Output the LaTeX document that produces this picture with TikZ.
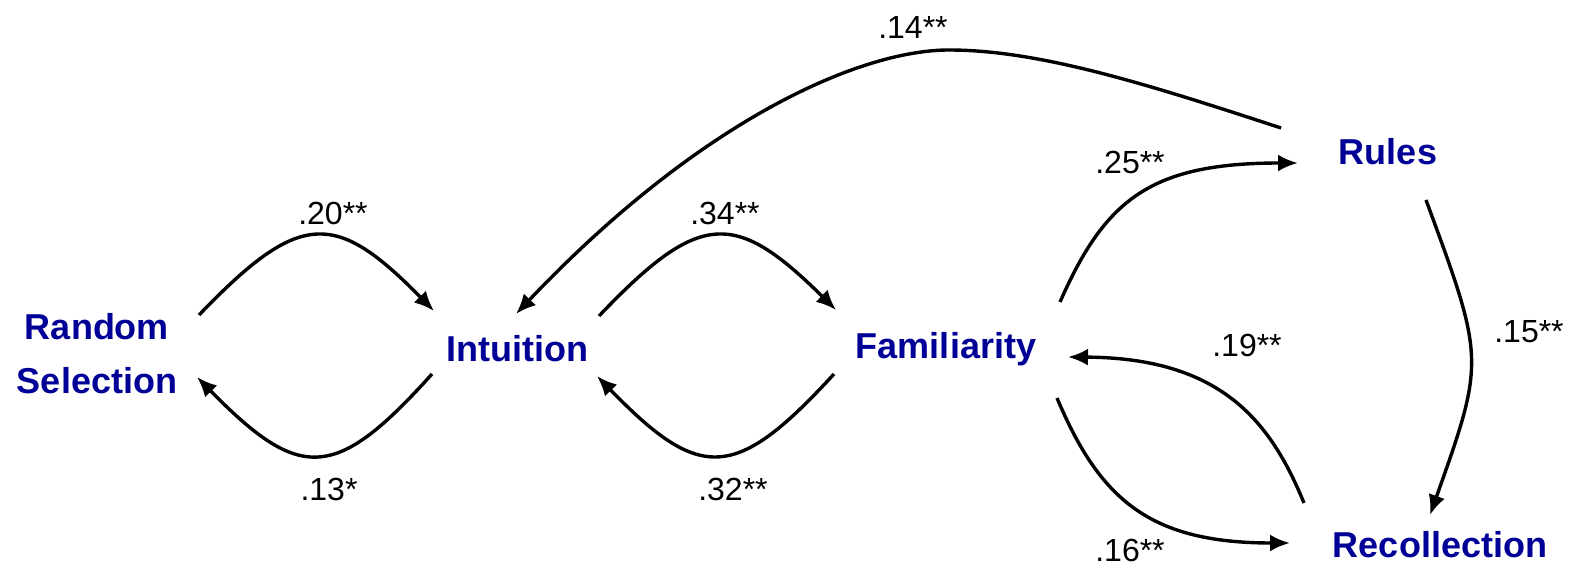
\documentclass[tikz,border=0pt]{standalone}
\usepackage{fontspec}
\setmainfont{Liberation Sans}
\usetikzlibrary{arrows.meta}
\definecolor{nodeblue}{RGB}{0,0,150}
\tikzset{
  var/.style={text=nodeblue, font=\bfseries\fontsize{18}{27}\selectfont, align=center, inner sep=0pt},
  coef/.style={font=\fontsize{16}{19}\selectfont, inner sep=0pt},
  link/.style={line width=1.7pt, -{Latex[length=10pt,width=8.5pt]}}
}
\begin{document}
\begin{tikzpicture}[x=0.5pt,y=-0.5pt]
\useasboundingbox (0,0) rectangle (1576,567);
\node[var] (rs) at (97,354) {Random\\Selection};
\node[var] (int) at (517,349) {Intuition};
\node[var] (fam) at (946,349) {Familiarity};
\node[var] (rul) at (1388,152) {Rules};
\node[var] (rec) at (1440,545) {Recollection};

\node[coef] (l20) at (333,213) {.20**};
\node[coef] (l13) at (329,489) {.13*};
\node[coef] (l34) at (725,213) {.34**};
\node[coef] (l32) at (733,489) {.32**};
\node[coef] (l14) at (913,27) {.14**};
\node[coef] (l25) at (1130,162) {.25**};
\node[coef] (l19) at (1247,345) {.19**};
\node[coef] (l15) at (1529,332) {.15**};
\node[coef] (l16) at (1130,550) {.16**};

\draw[link] ([shift={(102,-39)}]rs.center) .. controls (300,210) and (335,210) .. ([shift={(-83,-38)}]int.center);
\draw[link] ([shift={(-85,25)}]int.center) .. controls (335,482) and (300,482) .. ([shift={(100,23)}]rs.center);
\draw[link] ([shift={(82,-33)}]int.center) .. controls (700,210) and (735,210) .. ([shift={(-110,-39)}]fam.center);
\draw[link] ([shift={(-112,25)}]fam.center) .. controls (735,482) and (700,482) .. ([shift={(80,27)}]int.center);
\draw[link] ([shift={(-107,-24)}]rul.center) .. controls (1150,85) and (1040,50) .. (949,50) .. controls (860,50) and (700,120) .. ([shift={(-1,-35)}]int.center);
\draw[link] ([shift={(114,-47)}]fam.center) .. controls (1105,200) and (1150,163) .. ([shift={(-90,11)}]rul.center);
\draw[link] ([shift={(111,49)}]fam.center) .. controls (1100,500) and (1150,543) .. ([shift={(-150,-2)}]rec.center);
\draw[link] ([shift={(-136,-42)}]rec.center) .. controls (1270,420) and (1220,358) .. ([shift={(122,8)}]fam.center);
\draw[link] ([shift={(38,48)}]rul.center) .. controls (1485,360) and (1485,360) .. ([shift={(-10,-30)}]rec.center);
\end{tikzpicture}
\end{document}
